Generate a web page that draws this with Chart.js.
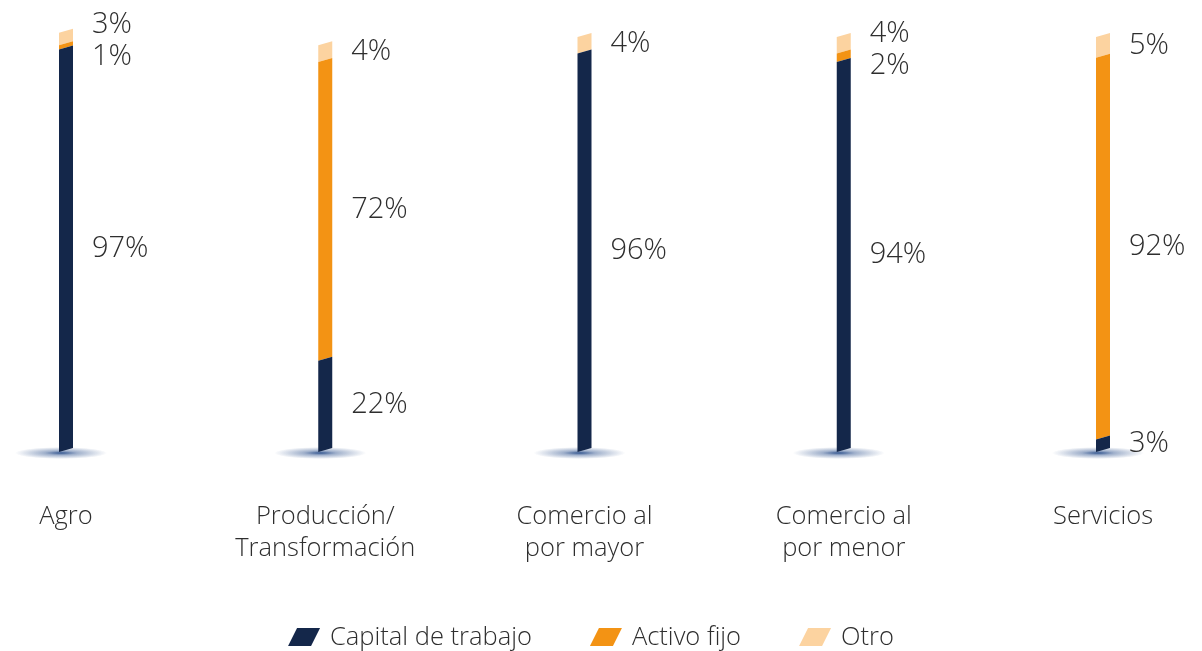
<!DOCTYPE html>
<html>
<head>
<meta charset="utf-8">
<script src="https://cdn.jsdelivr.net/npm/chart.js@4.4.1/dist/chart.umd.min.js"></script>
<style>
  html, body { margin: 0; padding: 0; background: #ffffff; }
  #wrap { width: 1202px; height: 651px; position: relative; }
</style>
</head>
<body>
<div id="wrap"><canvas id="chart"></canvas></div>
<script>
// categories (one label line per array item)
const categories = [
  ['Agro'],
  ['Producción/', 'Transformación'],
  ['Comercio al', 'por mayor'],
  ['Comercio al', 'por menor'],
  ['Servicios']
]

// series values (percent)
const capitalTrabajo = [97, 22, 96, 94, 3]
const activoFijo = [1, 72, 0, 2, 92]
const otro = [3, 4, 4, 4, 5]

const seriesNames = ['Capital de trabajo', 'Activo fijo', 'Otro']

const COLORS = {
  navy: '#14274a',
  orange: '#f39314',
  peach: '#fcd3a0',
  text: '#2e2e2e',
  shadow: '44, 80, 140'
}

const FONT = '"Open Sans", "Lato", sans-serif'
const SLANT = 2 // half of the vertical skew of each bar, px

/**
 * Draws the slanted bars, the base shadows, the value labels,
 * the category labels and the legend.
 */
const slantedBars = {
  id: 'slantedBars',
  beforeDatasetsDraw (chart) {
    // soft blue shadow under each bar
    const ctx = chart.ctx
    const meta = chart.getDatasetMeta(0)
    meta.data.forEach((bar) => {
      ctx.save()
      ctx.translate(bar.x - 5, bar.base + 3)
      ctx.scale(1, 0.13)
      const g = ctx.createRadialGradient(0, 0, 0, 0, 0, 46)
      g.addColorStop(0, `rgba(${COLORS.shadow}, 0.95)`)
      g.addColorStop(0.35, `rgba(${COLORS.shadow}, 0.45)`)
      g.addColorStop(1, `rgba(${COLORS.shadow}, 0)`)
      ctx.fillStyle = g
      ctx.beginPath()
      ctx.arc(0, 0, 46, 0, Math.PI * 2)
      ctx.fill()
      ctx.restore()
    })
  },
  beforeDatasetDraw (chart, args) {
    const ctx = chart.ctx
    const ds = chart.data.datasets[args.index]
    args.meta.data.forEach((bar, i) => {
      if (!ds.data[i]) return
      const half = bar.width / 2
      const l = bar.x - half
      const r = bar.x + half
      ctx.save()
      ctx.fillStyle = ds.backgroundColor
      ctx.beginPath()
      ctx.moveTo(l, bar.base + SLANT)
      ctx.lineTo(r, bar.base - SLANT)
      ctx.lineTo(r, bar.y - SLANT)
      ctx.lineTo(l, bar.y + SLANT)
      ctx.closePath()
      ctx.fill()
      ctx.restore()
    })
    return false
  },
  afterDatasetsDraw (chart) {
    const ctx = chart.ctx
    const n = chart.data.labels.length
    ctx.save()
    ctx.fillStyle = COLORS.text

    // value labels, to the right of each bar, pushed apart when crowded
    ctx.font = `300 29px ${FONT}`
    ctx.textAlign = 'left'
    ctx.textBaseline = 'middle'
    for (let i = 0; i < n; i++) {
      const items = []
      chart.data.datasets.forEach((ds, d) => {
        const v = ds.data[i]
        if (!v) return
        const bar = chart.getDatasetMeta(d).data[i]
        items.push({ text: `${v}%`, y: (bar.y + bar.base) / 2, x: bar.x + 26 })
      })
      items.sort((a, b) => b.y - a.y)
      const gap = 32
      for (let pass = 0; pass < 4; pass++) {
        for (let k = 1; k < items.length; k++) {
          const a = items[k - 1]
          const b = items[k]
          const d = a.y - b.y
          if (d < gap) {
            const push = (gap - d) / 2
            a.y += push
            b.y -= push
          }
        }
      }
      items.forEach(it => ctx.fillText(it.text, it.x, it.y))
    }

    // category labels
    ctx.font = `300 25.5px ${FONT}`
    ctx.textAlign = 'center'
    const xScale = chart.scales.x
    chart.data.labels.forEach((lines, i) => {
      const x = xScale.getPixelForValue(i)
      lines.forEach((line, j) => ctx.fillText(line, x, 517 + j * 32))
    })

    // legend
    const swW = 23
    const swH = 18
    const skew = 9
    ctx.font = `300 25.5px ${FONT}`
    const itemGap = 58
    const widths = seriesNames.map(s => swW + skew + 10 + ctx.measureText(s).width)
    const total = widths.reduce((a, b) => a + b, 0) + itemGap * (widths.length - 1)
    let x = 591 - total / 2
    const y = 637
    ctx.textAlign = 'left'
    seriesNames.forEach((s, k) => {
      ctx.fillStyle = chart.data.datasets[k].backgroundColor
      ctx.beginPath()
      ctx.moveTo(x, y + swH / 2)
      ctx.lineTo(x + swW, y + swH / 2)
      ctx.lineTo(x + swW + skew, y - swH / 2)
      ctx.lineTo(x + skew, y - swH / 2)
      ctx.closePath()
      ctx.fill()
      ctx.fillStyle = COLORS.text
      ctx.fillText(s, x + swW + skew + 10, y + 1)
      x += widths[k] + itemGap
    })
    ctx.restore()
  }
}

new Chart(document.getElementById('chart'), {
  type: 'bar',
  data: {
    labels: categories,
    datasets: [
      { label: seriesNames[0], data: capitalTrabajo, backgroundColor: COLORS.navy },
      { label: seriesNames[1], data: activoFijo, backgroundColor: COLORS.orange },
      { label: seriesNames[2], data: otro, backgroundColor: COLORS.peach }
    ]
  },
  options: {
    responsive: true,
    maintainAspectRatio: false,
    animation: false,
    barThickness: 14,
    layout: {
      padding: { left: 66, right: 99, top: 35, bottom: 201 }
    },
    scales: {
      x: { stacked: true, offset: false, display: false },
      y: { stacked: true, min: 0, max: 100, display: false }
    },
    plugins: {
      legend: { display: false },
      tooltip: { enabled: false }
    }
  },
  plugins: [slantedBars]
})
</script>
</body>
</html>
